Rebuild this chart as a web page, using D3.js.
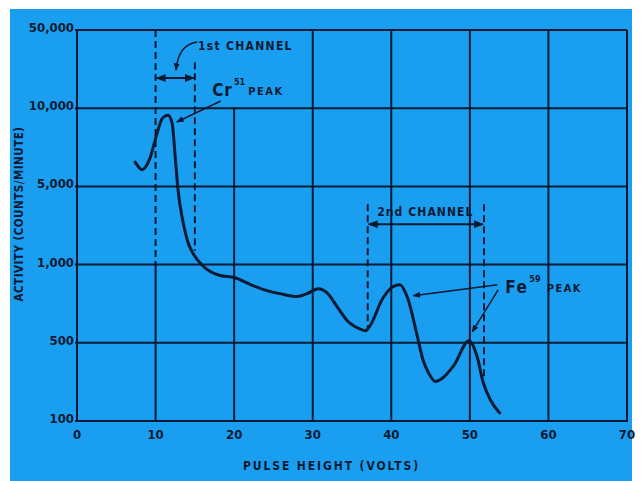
<!DOCTYPE html>
<html><head><meta charset="utf-8">
<script src="https://cdn.jsdelivr.net/npm/d3@7"></script>
<style>
html,body{margin:0;padding:0;background:#fff;}
svg{display:block;}
text{font-family:"Liberation Sans Narrow","DejaVu Sans Condensed","Arial Narrow",sans-serif;font-weight:bold;fill:#0b1a33;}
</style></head>
<body>
<script>
// ---- data ----
const xTicks = [0, 10, 20, 30, 40, 50, 60, 70];
const yLevels = [100, 500, 1000, 5000, 10000, 50000];
const yTickLabels = ["100", "500", "1,000", "5,000", "10,000", "50,000"];
const pulseVolts = [7.4, 8.3, 9.3, 10.2, 10.9, 11.6, 12.1, 12.5, 12.85, 13.5, 14.1, 14.8, 16.0, 18.2, 20.0, 22.4, 24.2, 25.8, 28.0, 29.3, 30.7, 31.8, 33.1, 34.4, 36.3, 36.7, 37.3, 38.9, 40.2, 41.1, 42.1, 43.3, 44.0, 44.7, 45.6, 47.9, 49.9, 50.9, 51.7, 52.6, 53.8];
const activity = [6200, 5800, 6440, 8030, 9170, 9400, 8770, 6500, 4700, 2400, 1600, 1250, 990, 908, 892, 830, 794, 773, 753, 773, 808, 780, 689, 608, 561, 556, 582, 740, 822, 837, 740, 532, 358, 273, 226, 309, 509, 381, 221, 155, 118];
const xTitle = "PULSE HEIGHT (VOLTS)";
const yTitle = "ACTIVITY (COUNTS/MINUTE)";

const W = 642, H = 481;
const svg = d3.select("body").append("svg").attr("width", W).attr("height", H);
const ink = "#0b1a33";
const bg = "#1a9ff0";

svg.append("rect").attr("x", 10).attr("y", 9).attr("width", 622).attr("height", H - 9).attr("fill", bg);

const pLeft = 77, pRight = 627, pBottom = 421, pTop = 30;
const x = d3.scaleLinear().domain([0, 70]).range([pLeft, pRight]);
const yStep = (pBottom - pTop) / (yLevels.length - 1);
const yLog = d3.scaleLinear().domain(yLevels.map(Math.log10)).range(yLevels.map((d, i) => pBottom - i * yStep));
const y = v => yLog(Math.log10(v));

// grid
const g = svg.append("g").attr("stroke", ink).attr("stroke-width", 2).attr("fill", "none");
yLevels.forEach(v => g.append("line").attr("x1", x(0) - 2).attr("x2", x(70)).attr("y1", y(v)).attr("y2", y(v)));
xTicks.forEach(t => {
  let yTop = y(50000);
  if (t === 20) yTop = y(10000);
  if (t === 10) yTop = y(1000);
  g.append("line").attr("x1", x(t)).attr("x2", x(t)).attr("y1", yTop).attr("y2", y(100) + 1);
});

// tick labels
svg.append("g").selectAll("text").data(yLevels).join("text")
  .attr("x", x(0) - 3).attr("y", d => y(d) + 2)
  .attr("text-anchor", "end").attr("font-size", 13).attr("letter-spacing", 0)
  .text((d, i) => yTickLabels[i]);
svg.append("g").selectAll("text").data(xTicks).join("text")
  .attr("x", d => x(d)).attr("y", y(100) + 18)
  .attr("text-anchor", "middle").attr("font-size", 13)
  .text(d => d);

// axis titles
svg.append("text").attr("x", 243).attr("y", 470).attr("font-size", 12).attr("letter-spacing", 1.9).text(xTitle);
svg.append("text").attr("transform", "translate(23," + 214 + ") rotate(-90)").attr("text-anchor", "middle")
  .attr("font-size", 11.5).attr("letter-spacing", 0.5).text(yTitle);

// arrow markers
const defs = svg.append("defs");
defs.append("marker").attr("id", "ah").attr("viewBox", "0 0 10 10").attr("refX", 9).attr("refY", 5)
  .attr("markerWidth", 5).attr("markerHeight", 5).attr("orient", "auto-start-reverse").attr("markerUnits", "strokeWidth")
  .append("path").attr("d", "M0,1 L10,5 L0,9 z").attr("fill", ink);

// channel dashed lines
const dashed = svg.append("g").attr("stroke", ink).attr("stroke-width", 2).attr("stroke-dasharray", "7,4").attr("fill", "none");
const channelLines = [
  {v: 10, y0: 50000, y1: 1000},
  {v: 15, y0: 25800, y1: 1330},
  {v: 37.0, y0: 3470, y1: 566},
  {v: 51.8, y0: 3470, y1: 245}
];
channelLines.forEach(c => dashed.append("line").attr("x1", x(c.v)).attr("x2", x(c.v)).attr("y1", y(c.y0)).attr("y2", y(c.y1)));

// double arrows
const arr = svg.append("g").attr("stroke", ink).attr("stroke-width", 2).attr("fill", "none");
[[10, 15, 18600], [37.0, 51.8, 2300]].forEach(([a, b, v]) =>
  arr.append("line").attr("x1", x(a) + 1).attr("x2", x(b) - 1).attr("y1", y(v)).attr("y2", y(v))
    .attr("marker-start", "url(#ah)").attr("marker-end", "url(#ah)"));

// pointer arrows
const pointers = [
  [[18.3, 11600], [12.7, 8850]],
  [[53.5, 837], [42.8, 759]],
  [[53.6, 800], [50.3, 551]]
];
const thin = svg.append("g").attr("stroke", ink).attr("stroke-width", 1.5).attr("fill", "none");
pointers.forEach(([p, q]) => thin.append("line").attr("x1", x(p[0])).attr("y1", y(p[1])).attr("x2", x(q[0])).attr("y2", y(q[1])).attr("marker-end", "url(#ah)"));
// curved arrow for 1st channel
thin.append("path").attr("d", "M" + x(15.3) + "," + y(39000) + " Q" + x(12.9) + "," + y(37000) + " " + x(12.6) + "," + y(21900))
  .attr("marker-end", "url(#ah)");

// labels
svg.append("text").attr("x", x(15.4)).attr("y", y(33100)).attr("font-size", 12).attr("letter-spacing", 1.3).text("1st CHANNEL");
const cr = svg.append("text").attr("x", x(17.2)).attr("y", y(12800));
cr.append("tspan").attr("font-size", 17).attr("letter-spacing", 1).text("Cr");
cr.append("tspan").attr("font-size", 9).attr("dy", -11).attr("dx", 1).text("51");
cr.append("tspan").attr("font-size", 11).attr("dy", 10).attr("dx", 3).attr("letter-spacing", 1.5).text("PEAK");
svg.append("text").attr("x", x(38.2)).attr("y", y(2720)).attr("font-size", 12).attr("letter-spacing", 1.1).text("2nd CHANNEL");
const fe = svg.append("text").attr("x", x(54.5)).attr("y", y(780));
fe.append("tspan").attr("font-size", 17).attr("letter-spacing", 1.5).text("Fe");
fe.append("tspan").attr("font-size", 9).attr("dy", -11).attr("dx", 1).text("59");
fe.append("tspan").attr("font-size", 11).attr("dy", 10).attr("dx", 6).attr("letter-spacing", 1.5).text("PEAK");

// curve
const pts = pulseVolts.map((v, i) => [v, activity[i]]);
svg.append("path").datum(pts)
  .attr("d", d3.line().x(d => x(d[0])).y(d => y(d[1])).curve(d3.curveMonotoneX))
  .attr("fill", "none").attr("stroke", ink).attr("stroke-width", 3).attr("stroke-linecap", "round");
</script>
</body></html>
